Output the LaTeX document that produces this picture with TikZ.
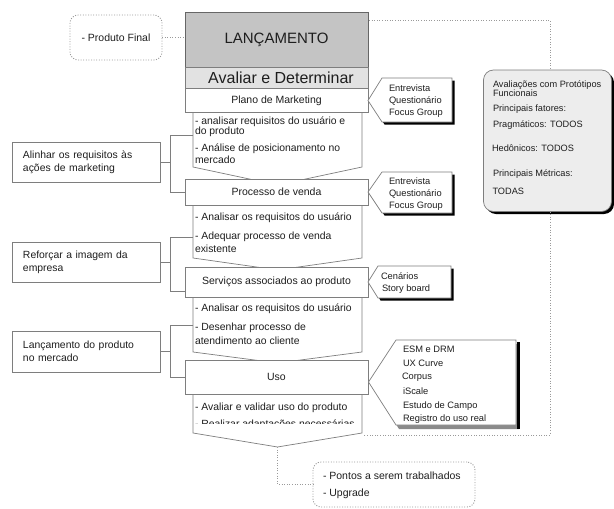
\documentclass[tikz,border=0pt]{standalone}
\usepackage{fontspec}
\setmainfont{Liberation Sans}
\usetikzlibrary{calc}
\definecolor{txt}{HTML}{1E1E1E}
\definecolor{bord}{HTML}{7E7E7E}
\definecolor{lancfill}{HTML}{C4C4C4}
\definecolor{avfill}{HTML}{E2E2E2}
\definecolor{rbfill}{HTML}{EDEDED}
\definecolor{dotc}{HTML}{9A9A9A}
\definecolor{shadgray}{HTML}{8A8A8A}
\begin{document}
\begin{tikzpicture}[x=1pt,y=-1pt,
  every node/.style={inner sep=0pt, outer sep=0pt, text=txt},
  box/.style={draw=bord, fill=white, line width=0.7pt},
  ttl/.style={font=\fontsize{10.5}{12}\selectfont},
  ln/.style={anchor=west, font=\fontsize{10.4}{12}\selectfont},
  sm/.style={anchor=west, font=\fontsize{9.3}{11}\selectfont},
  rbt/.style={anchor=west, font=\fontsize{9.2}{11}\selectfont},
  lbox/.style={draw=bord, fill=white, line width=0.7pt, minimum width=148pt, minimum height=40pt,
    text width=126pt, inner xsep=11pt, align=left, font=\fontsize{10.4}{13}\selectfont},
  dotline/.style={draw=dotc, line width=0.9pt, dash pattern=on 1pt off 1.6pt},
  conn/.style={draw=bord, line width=0.7pt},
  callout/.style={draw=bord, fill=white, line width=0.7pt},
  shad/.style={fill=black},
]
\useasboundingbox (0,0) rectangle (614,509);

% ---------- top part ----------
\node[draw=dotc, line width=0.9pt, dash pattern=on 1pt off 1.6pt, rounded corners=8pt,
  minimum width=92pt, minimum height=45pt, font=\fontsize{10.5}{12}\selectfont] (pf) at (116,37.5) {- Produto Final};

\node[draw=black!60, fill=lancfill, line width=0.7pt, minimum width=183pt, minimum height=55pt,
  font=\fontsize{15}{18}\selectfont] (lanc) at (276.5,39.5) {LANÇAMENTO};
\node[draw=bord, fill=avfill, line width=0.7pt, minimum width=183pt, minimum height=21pt,
  font=\fontsize{16}{18}\selectfont] (aval) at (276.5,77.5) {\hspace*{9pt}Avaliar e Determinar};

\draw[dotline] (pf.east) -- (pf.east -| lanc.west);

% ---------- panels (drawn under the boxes) ----------
\draw[box] (193,112) -- (362,112) -- (362,167) -- (277.5,185) -- (193,167) -- cycle;
\draw[box] (193,205) -- (362,205) -- (362,258) -- (277.5,270) -- (193,258) -- cycle;
\draw[box] (193,297) -- (362,297) -- (362,352) -- (277.5,363) -- (193,352) -- cycle;
\draw[box] (193,394) -- (362,394) -- (362,433) -- (277.5,447) -- (193,433) -- cycle;

% ---------- step boxes ----------
\node[box, ttl, minimum width=183pt, minimum height=23.5pt] (plano) at (276.5,100.5) {Plano de Marketing};
\node[box, ttl, minimum width=183pt, minimum height=26pt] (proc) at (276.5,192) {Processo de venda};
\node[box, ttl, minimum width=183pt, minimum height=30pt] (serv) at (276.5,282) {Serviços associados ao produto};
\node[box, ttl, minimum width=183pt, minimum height=34pt] (uso) at (276.5,377) {Uso};

% ---------- panel texts ----------
\node[ln] (t1a) at (195,121.5) {- analisar requisitos do usuário e};
\node[ln] (t1b) at (195,131.5) {do produto};
\node[ln] (t1c) at (195,148.3) {- Análise de posicionamento no};
\node[ln] (t1d) at (195,159.3) {mercado};

\node[ln] (t2a) at (195,218) {- Analisar os requisitos do usuário};
\node[ln] (t2b) at (195,236.5) {- Adequar processo de venda};
\node[ln] (t2c) at (195,248.5) {existente};

\node[ln] (t3a) at (195,308.5) {- Analisar os requisitos do usuário};
\node[ln] (t3b) at (195,327.5) {- Desenhar processo de};
\node[ln] (t3c) at (195,340.5) {atendimento ao cliente};

\node[ln] (t4a) at (195,408.3) {- Avaliar e validar uso do produto};
\begin{scope}
  \clip (190,400) rectangle (365,423.6);
  \node[ln] (t4b) at (195,425) {- Realizar adaptações necessárias};
\end{scope}

% ---------- left boxes and brackets ----------
\node[lbox] (la) at (86,162) {Alinhar os requisitos às\\ações de marketing};
\node[lbox] (lb) at (86,262) {Reforçar a imagem da\\empresa};
\node[lbox, minimum height=41pt] (lc) at (86,351.5) {Lançamento do produto\\no mercado};

\coordinate (bx) at (170,0);
\coordinate (p1s) at (193,135);
\coordinate (p2s) at (193,237);
\coordinate (p3s) at (193,325);
\coordinate (s2) at (185,291);

\draw[conn] (la.east) -- (la.east -| bx);
\draw[conn] (p1s) -- (p1s -| bx) |- (proc.west);
\draw[conn] (lb.east) -- (lb.east -| bx);
\draw[conn] (p2s) -- (p2s -| bx) |- (s2);
\draw[conn] (lc.east) -- (lc.east -| bx);
\draw[conn] (p3s) -- (p3s -| bx) |- (uso.west);

% ---------- callouts ----------
\fill[shad, shift={(2.5,2.5)}] (382,78) -- (452,78) -- (452,122) -- (382,122) -- (368,100.5) -- cycle;
\draw[callout] (382,78) -- (452,78) -- (452,122) -- (382,122) -- (plano.east) -- cycle;
\node[sm] (c1a) at (389,88.3) {Entrevista};
\node[sm] (c1b) at (389,100.7) {Questionário};
\node[sm] (c1c) at (389,113.3) {Focus Group};

\fill[shad, shift={(2.5,2.5)}] (382,172) -- (452,172) -- (452,213) -- (382,213) -- (368,192) -- cycle;
\draw[callout] (382,172) -- (452,172) -- (452,213) -- (382,213) -- (proc.east) -- cycle;
\node[sm] (c2a) at (389,181) {Entrevista};
\node[sm] (c2b) at (389,193.5) {Questionário};
\node[sm] (c2c) at (389,206) {Focus Group};

\fill[shad, shift={(2.5,2.5)}] (378,266) -- (451,266) -- (451,298) -- (378,298) -- (369,282) -- cycle;
\draw[callout] (378,266) -- (451,266) -- (451,298) -- (378,298) -- (serv.east) -- cycle;
\node[sm] (c3a) at (381,276) {Cenários};
\node[sm] (c3b) at (382,289.3) {Story board};

\fill[shadgray, shift={(3,4)}] (396,340) -- (516,340) -- (516,425) -- (396,425) -- (369,382) -- cycle;
\draw[black, line width=2.6pt] (518.2,342) -- (518.2,429);
\draw[callout] (396,340) -- (516,340) -- (516,425) -- (396,425) -- (368.5,382) -- cycle;
\node[sm] (c4a) at (403,349) {ESM e DRM};
\node[sm] (c4b) at (403,363) {UX Curve};
\node[sm] (c4c) at (402,377) {Corpus};
\node[sm] (c4d) at (403,391) {iScale};
\node[sm] (c4e) at (403,406) {Estudo de Campo};
\node[sm] (c4f) at (403,419) {Registro do uso real};

% ---------- right rounded box ----------
\fill[black, rounded corners=10pt] (486,72.5) rectangle (614,214);
\node[draw=bord, fill=rbfill, line width=0.7pt, rounded corners=10pt, minimum width=128pt,
  minimum height=141.5pt] (rb) at (547.5,140.75) {};
\node[rbt] (r1) at (493,85) {Avaliações com Protótipos};
\node[rbt] (r2) at (493,93.5) {Funcionais};
\node[rbt] (r3) at (493,109) {Principais fatores:};
\node[rbt] (r4) at (493,125) {Pragmáticos: TODOS};
\node[rbt] (r5) at (492,148) {Hedônicos: TODOS};
\node[rbt] (r6) at (493,174) {Principais Métricas:};
\node[rbt] (r7) at (492.5,191) {TODAS};

% ---------- dotted connectors on the right ----------
\coordinate (d1) at (369,20);
\coordinate (vx) at (550,0);
\coordinate (d4) at (364,435);
\draw[dotline] (d1) -- (d1 -| vx) -- (vx |- rb.north);
\draw[dotline] (vx |- rb.south) -- (vx |- d4) -- (d4);

% ---------- bottom box ----------
\node[draw=dotc, line width=0.9pt, dash pattern=on 1pt off 1.6pt, rounded corners=8pt,
  minimum width=162pt, minimum height=45pt] (bb) at (394,484.5) {};
\node[ln, font=\fontsize{10.5}{12}\selectfont] (b1) at (323,476) {- Pontos a serem trabalhados};
\node[ln, font=\fontsize{10.5}{12}\selectfont] (b2) at (323,494) {- Upgrade};
\coordinate (p4t) at (277.5,447);
\draw[dotline] (p4t) |- (bb.west);

\end{tikzpicture}
\end{document}
